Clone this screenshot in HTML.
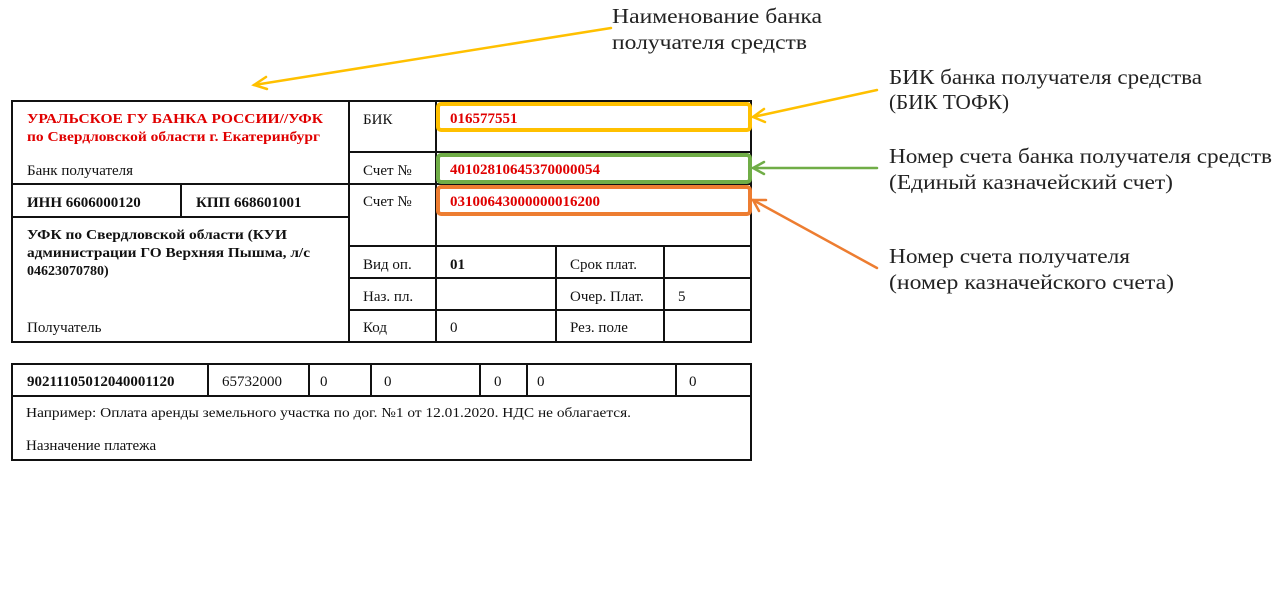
<!DOCTYPE html>
<html><head><meta charset="utf-8"><style>
html,body{margin:0;padding:0;background:#fff;width:1280px;height:608px;overflow:hidden}
svg{display:block}
.t{font-family:"Liberation Serif",serif;font-size:15px;fill:#111}
.b{font-weight:bold}
.r{fill:#e00000;font-weight:bold}
.a{font-family:"Liberation Serif",serif;font-size:21px;fill:#222}
</style></head><body>
<svg width="1280" height="608" viewBox="0 0 1280 608" xmlns="http://www.w3.org/2000/svg">
<g stroke="#111" stroke-width="2" fill="none">
<rect x="12" y="101" width="739" height="241"/>
<line x1="349" y1="101" x2="349" y2="342"/>
<line x1="436" y1="101" x2="436" y2="342"/>
<line x1="12" y1="184" x2="349" y2="184"/>
<line x1="12" y1="217" x2="349" y2="217"/>
<line x1="181" y1="184" x2="181" y2="217"/>
<line x1="349" y1="152" x2="751" y2="152"/>
<line x1="349" y1="184" x2="751" y2="184"/>
<line x1="349" y1="246" x2="751" y2="246"/>
<line x1="349" y1="278" x2="751" y2="278"/>
<line x1="349" y1="310" x2="751" y2="310"/>
<line x1="556" y1="246" x2="556" y2="342"/>
<line x1="664" y1="246" x2="664" y2="342"/>
<rect x="12" y="364" width="739" height="96"/>
<line x1="12" y1="396" x2="751" y2="396"/>
<line x1="208" y1="364" x2="208" y2="396"/>
<line x1="309" y1="364" x2="309" y2="396"/>
<line x1="371" y1="364" x2="371" y2="396"/>
<line x1="480" y1="364" x2="480" y2="396"/>
<line x1="527" y1="364" x2="527" y2="396"/>
<line x1="676" y1="364" x2="676" y2="396"/>
</g>
<g fill="#fff" stroke-width="4">
<rect x="438" y="104" width="312" height="26" rx="3" stroke="#ffc000"/>
<rect x="438" y="155" width="312" height="27" rx="3" stroke="#70ad47"/>
<rect x="438" y="187" width="312" height="27" rx="3" stroke="#ed7d31"/>
</g>
<text class="t r" x="27" y="123" textLength="296" lengthAdjust="spacingAndGlyphs" style="font-size:14px">УРАЛЬСКОЕ ГУ БАНКА РОССИИ//УФК</text>
<text class="t r" x="27" y="141" textLength="293" lengthAdjust="spacingAndGlyphs" style="font-size:14px">по Свердловской области г. Екатеринбург</text>
<text class="t" x="27" y="175">Банк получателя</text>
<text class="t b" x="27" y="207">ИНН 6606000120</text>
<text class="t b" x="196" y="207">КПП 668601001</text>
<text class="t b" x="27" y="239" textLength="260" lengthAdjust="spacingAndGlyphs" style="font-size:14px">УФК по Свердловской области (КУИ</text>
<text class="t b" x="27" y="257" textLength="283" lengthAdjust="spacingAndGlyphs" style="font-size:14px">администрации ГО Верхняя Пышма, л/с</text>
<text class="t b" x="27" y="275" style="font-size:14px">04623070780)</text>
<text class="t" x="27" y="332">Получатель</text>
<text class="t" x="363" y="124">БИК</text>
<text class="t" x="363" y="175">Счет №</text>
<text class="t" x="363" y="206">Счет №</text>
<text class="t" x="363" y="269">Вид оп.</text>
<text class="t" x="363" y="301">Наз. пл.</text>
<text class="t" x="363" y="332">Код</text>
<text class="t r" x="450" y="123">016577551</text>
<text class="t r" x="450" y="174">40102810645370000054</text>
<text class="t r" x="450" y="206">03100643000000016200</text>
<text class="t b" x="450" y="269">01</text>
<text class="t" x="450" y="332">0</text>
<text class="t" x="570" y="269">Срок плат.</text>
<text class="t" x="570" y="301">Очер. Плат.</text>
<text class="t" x="570" y="332">Рез. поле</text>
<text class="t" x="678" y="301">5</text>
<text class="t b" x="27" y="386">90211105012040001120</text>
<text class="t" x="222" y="386">65732000</text>
<text class="t" x="320" y="386">0</text>
<text class="t" x="384" y="386">0</text>
<text class="t" x="494" y="386">0</text>
<text class="t" x="537" y="386">0</text>
<text class="t" x="689" y="386">0</text>
<text class="t" x="26" y="417" textLength="605" lengthAdjust="spacingAndGlyphs" style="font-size:14px">Например: Оплата аренды земельного участка по дог. №1 от 12.01.2020. НДС не облагается.</text>
<text class="t" x="26" y="450">Назначение платежа</text>
<g stroke-width="2.5" fill="none" stroke-linecap="round">
<g stroke="#ffc000">
<line x1="611" y1="28" x2="254" y2="85"/>
<polyline points="266,77 254,85 267,89"/>
<line x1="877" y1="90" x2="753" y2="117"/>
<polyline points="764,109 753,117 765,122"/>
</g>
<g stroke="#70ad47">
<line x1="877" y1="168" x2="753" y2="168"/>
<polyline points="764,162 753,168 764,174"/>
</g>
<g stroke="#ed7d31">
<line x1="877" y1="268" x2="753" y2="200"/>
<polyline points="766,200 753,200 759,211"/>
</g>
</g>
<text class="a" x="612" y="23" textLength="210" lengthAdjust="spacingAndGlyphs">Наименование банка</text>
<text class="a" x="612" y="49" textLength="195" lengthAdjust="spacingAndGlyphs">получателя средств</text>
<text class="a" x="889" y="84" textLength="313" lengthAdjust="spacingAndGlyphs">БИК банка получателя средства</text>
<text class="a" x="889" y="109" textLength="120" lengthAdjust="spacingAndGlyphs">(БИК ТОФК)</text>
<text class="a" x="889" y="163" textLength="383" lengthAdjust="spacingAndGlyphs">Номер счета банка получателя средств</text>
<text class="a" x="889" y="189" textLength="284" lengthAdjust="spacingAndGlyphs">(Единый казначейский счет)</text>
<text class="a" x="889" y="263" textLength="241" lengthAdjust="spacingAndGlyphs">Номер счета получателя</text>
<text class="a" x="889" y="289" textLength="285" lengthAdjust="spacingAndGlyphs">(номер казначейского счета)</text>
</svg>
</body></html>
